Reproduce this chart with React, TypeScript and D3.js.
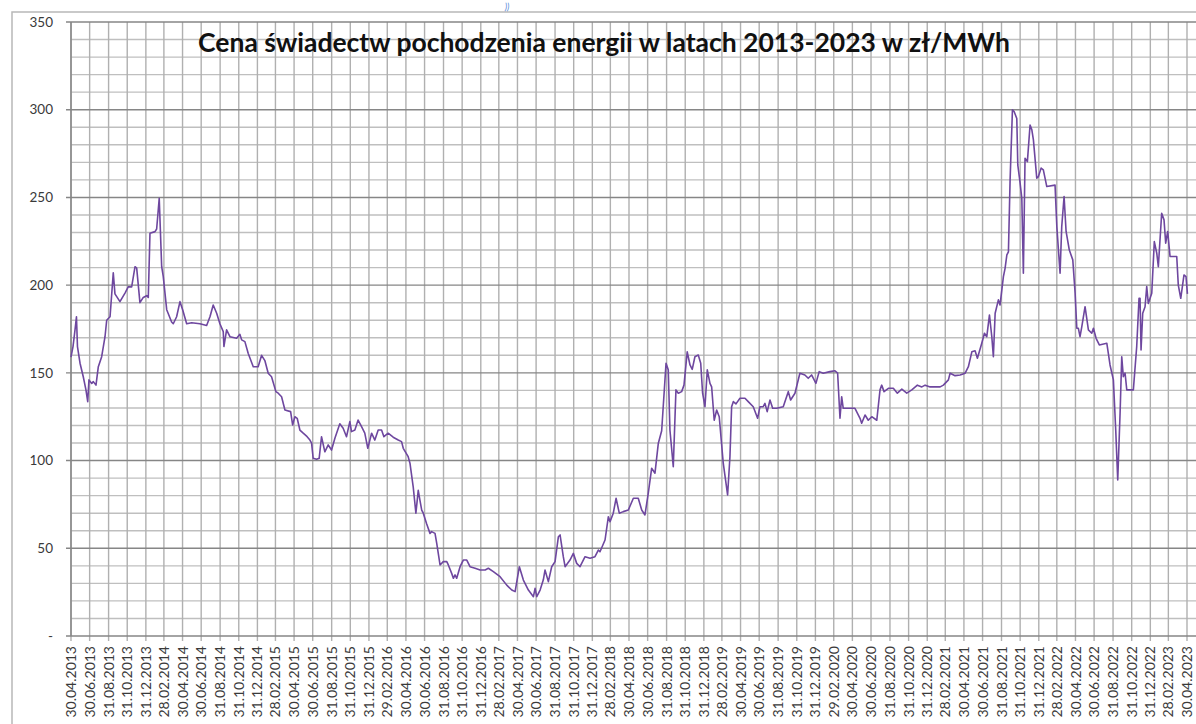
import { useRef, useEffect } from 'react'
import * as d3 from 'd3'

const title = 'Cena świadectw pochodzenia energii w latach 2013-2023 w zł/MWh'

// etykiety osi X (co dwa miesiące, ostatni dzień miesiąca)
const xTickLabels = [
  '30.04.2013', '30.06.2013', '31.08.2013', '31.10.2013', '31.12.2013',
  '28.02.2014', '30.04.2014', '30.06.2014', '31.08.2014', '31.10.2014', '31.12.2014',
  '28.02.2015', '30.04.2015', '30.06.2015', '31.08.2015', '31.10.2015', '31.12.2015',
  '29.02.2016', '30.04.2016', '30.06.2016', '31.08.2016', '31.10.2016', '31.12.2016',
  '28.02.2017', '30.04.2017', '30.06.2017', '31.08.2017', '31.10.2017', '31.12.2017',
  '28.02.2018', '30.04.2018', '30.06.2018', '31.08.2018', '31.10.2018', '31.12.2018',
  '28.02.2019', '30.04.2019', '30.06.2019', '31.08.2019', '31.10.2019', '31.12.2019',
  '29.02.2020', '30.04.2020', '30.06.2020', '31.08.2020', '31.10.2020', '31.12.2020',
  '28.02.2021', '30.04.2021', '30.06.2021', '31.08.2021', '31.10.2021', '31.12.2021',
  '28.02.2022', '30.04.2022', '30.06.2022', '31.08.2022', '31.10.2022', '31.12.2022',
  '28.02.2023', '30.04.2023',
]

const yTicks = [0, 50, 100, 150, 200, 250, 300, 350]

// daty notowań jako ułamek roku
const dates = [
  2013.326, 2013.344, 2013.362, 2013.375, 2013.384, 2013.407, 2013.436, 2013.460, 2013.476, 2013.487,
  2013.512, 2013.526, 2013.550, 2013.571, 2013.601, 2013.631, 2013.646, 2013.676, 2013.705, 2013.720,
  2013.765, 2013.810, 2013.839, 2013.870, 2013.900, 2013.915, 2013.944, 2013.974, 2014.004, 2014.019,
  2014.034, 2014.079, 2014.094, 2014.117, 2014.139, 2014.153, 2014.184, 2014.228, 2014.243, 2014.273,
  2014.303, 2014.327, 2014.363, 2014.408, 2014.482, 2014.542, 2014.572, 2014.601, 2014.632, 2014.661,
  2014.691, 2014.697, 2014.721, 2014.751, 2014.811, 2014.840, 2014.856, 2014.885, 2014.915, 2014.960,
  2015.004, 2015.035, 2015.064, 2015.094, 2015.124, 2015.163, 2015.184, 2015.214, 2015.244, 2015.295,
  2015.313, 2015.333, 2015.354, 2015.378, 2015.408, 2015.443, 2015.468, 2015.483, 2015.497, 2015.528,
  2015.551, 2015.572, 2015.602, 2015.632, 2015.662, 2015.692, 2015.736, 2015.766, 2015.796, 2015.826,
  2015.841, 2015.871, 2015.900, 2015.931, 2015.960, 2015.987, 2016.021, 2016.050, 2016.080, 2016.110,
  2016.131, 2016.169, 2016.214, 2016.259, 2016.289, 2016.304, 2016.348, 2016.364, 2016.393, 2016.417,
  2016.438, 2016.453, 2016.469, 2016.483, 2016.513, 2016.543, 2016.558, 2016.588, 2016.603, 2016.633,
  2016.662, 2016.693, 2016.707, 2016.737, 2016.752, 2016.767, 2016.782, 2016.812, 2016.841, 2016.872,
  2016.901, 2016.946, 2016.991, 2017.036, 2017.065, 2017.110, 2017.170, 2017.230, 2017.275, 2017.305,
  2017.343, 2017.379, 2017.424, 2017.469, 2017.484, 2017.499, 2017.529, 2017.558, 2017.573, 2017.603,
  2017.633, 2017.663, 2017.693, 2017.708, 2017.737, 2017.753, 2017.797, 2017.827, 2017.857, 2017.887,
  2017.932, 2017.977, 2018.021, 2018.051, 2018.066, 2018.111, 2018.141, 2018.156, 2018.185, 2018.210,
  2018.239, 2018.275, 2018.320, 2018.365, 2018.409, 2018.440, 2018.469, 2018.499, 2018.529, 2018.559,
  2018.589, 2018.619, 2018.658, 2018.678, 2018.693, 2018.723, 2018.747, 2018.768, 2018.798, 2018.819,
  2018.848, 2018.873, 2018.893, 2018.917, 2018.947, 2018.969, 2018.986, 2019.007, 2019.028, 2019.052,
  2019.067, 2019.090, 2019.112, 2019.135, 2019.171, 2019.210, 2019.231, 2019.246, 2019.261, 2019.285,
  2019.321, 2019.366, 2019.395, 2019.440, 2019.479, 2019.500, 2019.529, 2019.545, 2019.565, 2019.590,
  2019.614, 2019.650, 2019.709, 2019.754, 2019.775, 2019.814, 2019.858, 2019.903, 2019.933, 2019.963,
  2020.002, 2020.031, 2020.067, 2020.127, 2020.172, 2020.196, 2020.217, 2020.232, 2020.246, 2020.351,
  2020.396, 2020.411, 2020.441, 2020.470, 2020.501, 2020.546, 2020.575, 2020.590, 2020.611, 2020.650,
  2020.694, 2020.730, 2020.770, 2020.814, 2020.859, 2020.909, 2020.949, 2020.978, 2021.023, 2021.113,
  2021.142, 2021.187, 2021.202, 2021.247, 2021.292, 2021.337, 2021.366, 2021.397, 2021.426, 2021.447,
  2021.486, 2021.510, 2021.531, 2021.555, 2021.576, 2021.590, 2021.606, 2021.635, 2021.650, 2021.680,
  2021.695, 2021.711, 2021.725, 2021.740, 2021.761, 2021.776, 2021.800, 2021.809, 2021.830, 2021.845,
  2021.859, 2021.874, 2021.895, 2021.919, 2021.935, 2021.949, 2021.979, 2021.994, 2022.018, 2022.038,
  2022.069, 2022.143, 2022.159, 2022.188, 2022.203, 2022.224, 2022.242, 2022.271, 2022.302, 2022.323,
  2022.338, 2022.352, 2022.367, 2022.383, 2022.412, 2022.442, 2022.472, 2022.487, 2022.511, 2022.540,
  2022.607, 2022.636, 2022.666, 2022.687, 2022.705, 2022.726, 2022.741, 2022.755, 2022.771, 2022.786,
  2022.845, 2022.875, 2022.896, 2022.905, 2022.914, 2022.929, 2022.950, 2022.965, 2022.979, 2023.010,
  2023.033, 2023.055, 2023.069, 2023.099, 2023.120, 2023.135, 2023.153, 2023.174, 2023.234, 2023.248,
  2023.270, 2023.299, 2023.317, 2023.330,
]

// cena w zł/MWh
const prices = [
  159, 165, 174.5, 182, 165, 155.5, 147.8, 140.3, 133.6, 146,
  144, 145, 143, 153.5, 159.2, 170.6, 180, 182, 207, 195,
  190.6, 195.5, 199, 199, 210.5, 209.7, 190, 193, 194, 193,
  229.6, 230.5, 232, 249.5, 210.5, 205, 186, 179, 178, 182,
  190.6, 186, 178, 178.6, 178, 177, 182, 188.7, 184, 178,
  173.5, 165, 174.5, 170.6, 169.7, 172, 168.8, 167.8, 161, 153.5,
  153.5, 160, 157, 149.8, 147.8, 139.3, 138.4, 136.4, 128.8, 127.9,
  120.3, 125, 124.1, 117.4, 115.6, 113.6, 111.7, 109.9, 101.3, 100.7,
  101.3, 113.6, 105, 108.9, 106, 112.7, 121, 118.4, 113.6, 122.2,
  116.5, 117.4, 123.1, 119.3, 115.6, 107, 115.6, 111.7, 117.4, 117.4,
  113.6, 115.6, 113.3, 111.7, 110.8, 107, 102.2, 98.5, 85, 70,
  83, 77.5, 71.8, 70, 64, 58.5, 59.5, 58.5, 52.9, 40.5,
  42.4, 42.4, 40.5, 35.7, 32.9, 34.8, 32.9, 39.5, 43.3, 43.3,
  39.5, 38.6, 37.6, 37.6, 38.6, 36.7, 33.8, 29, 26.2, 25.3,
  39.5, 31.9, 26.2, 22.4, 27.2, 22.4, 26.2, 32, 37.6, 31,
  39.5, 42.4, 56.6, 57.6, 45.2, 39.5, 43.3, 47.1, 41.4, 39.5,
  45.2, 44.3, 45.2, 49, 48, 54.7, 68, 65.2, 70, 78.5,
  70, 70.9, 71.8, 78.5, 78.5, 71.8, 69, 81.4, 95.6, 92.8,
  109.9, 117, 155.5, 151.7, 117.4, 96.5, 140.3, 138.4, 139.3, 143,
  162, 154.5, 152, 159.2, 160.2, 155.5, 138.4, 130.7, 151.7, 144,
  142, 123, 128.8, 125, 98.5, 80.4, 102.2, 130.7, 133.6, 132.3,
  135.5, 135.5, 133.6, 130.7, 124.1, 130.7, 130.7, 132.6, 127.9, 134.5,
  129.8, 129.8, 130.7, 139.3, 134.5, 138.4, 149.8, 148.8, 146.9, 148.8,
  144, 150.7, 149.8, 150.7, 151.2, 149.8, 124.1, 136.4, 129.8, 129.8,
  124.1, 121.3, 126, 123, 125, 123, 140.3, 143, 139.3, 141.2,
  141.2, 138.4, 140.7, 138.4, 140.3, 143, 142, 143, 142, 142,
  143, 146, 149.8, 148.4, 148.8, 149.8, 153.5, 162, 162.6, 158.3,
  166.9, 172.6, 170.6, 183, 170.6, 159.2, 184, 191.6, 188.7, 204.9,
  209.6, 217.2, 219, 260, 299.9, 299, 295, 268.5, 258, 249.5,
  206.8, 272.3, 270.4, 291.3, 288.5, 282.8, 261, 261.9, 266.7, 265.7,
  256.2, 257, 233.4, 206.8, 233.4, 250.5, 230.6, 220, 214.4, 195.4,
  175.4, 175.4, 170.6, 176.3, 187.7, 174.5, 172.6, 175.4, 169.7, 165.9,
  166.9, 154.5, 146, 117.4, 88.9, 127, 159.2, 147.8, 149.8, 140.3,
  140.3, 164.9, 192.5, 192.5, 163, 184, 187.7, 199.2, 189.6, 195.4,
  224.8, 218.2, 210.5, 241, 237.2, 223.9, 230.6, 216.3, 216.3, 200,
  192.5, 205.8, 204.9, 195,
]

const fracYearToDate = (t: number) => {
  const y = Math.floor(t)
  const a = Date.UTC(y, 0, 1)
  const b = Date.UTC(y + 1, 0, 1)
  return new Date(a + (t - y) * (b - a))
}

const parseLabel = d3.utcParse('%d.%m.%Y')

const App = () => {
  const svgRef = useRef<SVGSVGElement>(null)

  useEffect(() => {
    const width = 1196
    const height = 724
    const margin = { top: 22, left: 71, bottom: 88, right: 9 }
    const font = 'Lato, Carlito, Calibri, sans-serif'

    const svg = d3.select(svgRef.current).attr('width', width).attr('height', height)
    svg.selectAll('*').remove()

    svg.append('rect').attr('width', width).attr('height', height).attr('fill', '#fff')

    const tickDates = xTickLabels.map(s => parseLabel(s) as Date)

    const x = d3.scaleUtc()
      .domain([tickDates[0], tickDates[tickDates.length - 1]])
      .range([margin.left, width - margin.right])

    const y = d3.scaleLinear()
      .domain([0, 350])
      .range([height - margin.bottom, margin.top])

    // ramka wykresu
    svg.append('rect')
      .attr('x', 12).attr('y', 12)
      .attr('width', width + 20).attr('height', height + 20)
      .attr('fill', 'none')
      .attr('stroke', '#b8b8b8')
      .attr('stroke-width', 1.5)

    // cienkie linie poziome co 10
    svg.append('g')
      .selectAll('line')
      .data(d3.range(10, 350, 10).filter(v => v % 50 !== 0))
      .join('line')
      .attr('x1', margin.left).attr('x2', width)
      .attr('y1', d => y(d)).attr('y2', d => y(d))
      .attr('stroke', '#bfbfbf')
      .attr('stroke-width', 1.4)

    // linie pionowe
    svg.append('g')
      .selectAll('line')
      .data(tickDates)
      .join('line')
      .attr('x1', d => x(d)).attr('x2', d => x(d))
      .attr('y1', y(350)).attr('y2', y(0) + 5)
      .attr('stroke', '#b0b0b0')
      .attr('stroke-width', 1.4)

    // główne linie poziome co 50
    svg.append('g')
      .selectAll('line')
      .data(yTicks.filter(v => v > 0))
      .join('line')
      .attr('x1', margin.left - 5).attr('x2', width)
      .attr('y1', d => y(d)).attr('y2', d => y(d))
      .attr('stroke', '#868686')
      .attr('stroke-width', 1.4)

    // osie
    svg.append('line')
      .attr('x1', margin.left).attr('x2', margin.left)
      .attr('y1', y(350)).attr('y2', y(0))
      .attr('stroke', '#868686').attr('stroke-width', 1.5)
    svg.append('line')
      .attr('x1', margin.left - 5).attr('x2', width)
      .attr('y1', y(0)).attr('y2', y(0))
      .attr('stroke', '#868686').attr('stroke-width', 1.5)

    // etykiety Y
    svg.append('g')
      .selectAll('text')
      .data(yTicks)
      .join('text')
      .attr('x', 53)
      .attr('y', d => y(d))
      .attr('dy', '0.35em')
      .attr('text-anchor', 'end')
      .attr('fill', '#3a3a3a')
      .style('font-family', font)
      .style('font-size', '13.5px')
      .text(d => d === 0 ? '-' : String(d))

    // etykiety X
    svg.append('g')
      .selectAll('text')
      .data(tickDates)
      .join('text')
      .attr('transform', d => `translate(${x(d)},${y(0) + 10}) rotate(-90)`)
      .attr('dy', '0.36em')
      .attr('text-anchor', 'end')
      .attr('fill', '#3a3a3a')
      .style('font-family', font)
      .style('font-size', '14px')
      .text((d, i) => xTickLabels[i])

    // linia cen
    const points = dates.map((t, i) => ({ date: fracYearToDate(t), value: prices[i] }))
    const line = d3.line<{ date: Date; value: number }>()
      .x(d => x(d.date))
      .y(d => y(d.value))

    svg.append('path')
      .datum(points)
      .attr('d', line)
      .attr('fill', 'none')
      .attr('stroke', '#6e479f')
      .attr('stroke-width', 1.6)
      .attr('stroke-linejoin', 'round')

    // tytuł
    svg.append('text')
      .attr('x', 604)
      .attr('y', 52)
      .attr('text-anchor', 'middle')
      .attr('fill', '#111')
      .style('font-family', font)
      .style('font-weight', 'bold')
      .style('font-size', '26.5px')
      .text(title)

    // resztka tekstu nad wykresem
    svg.append('text')
      .attr('x', 507)
      .attr('y', 10)
      .attr('text-anchor', 'middle')
      .attr('fill', '#5b8bd9')
      .style('font-family', font)
      .style('font-style', 'italic')
      .style('font-size', '9px')
      .text('))')
  }, [])

  return <svg ref={svgRef} style={{ position: 'absolute', left: 0, top: 0, display: 'block' }}></svg>
}

export default App
